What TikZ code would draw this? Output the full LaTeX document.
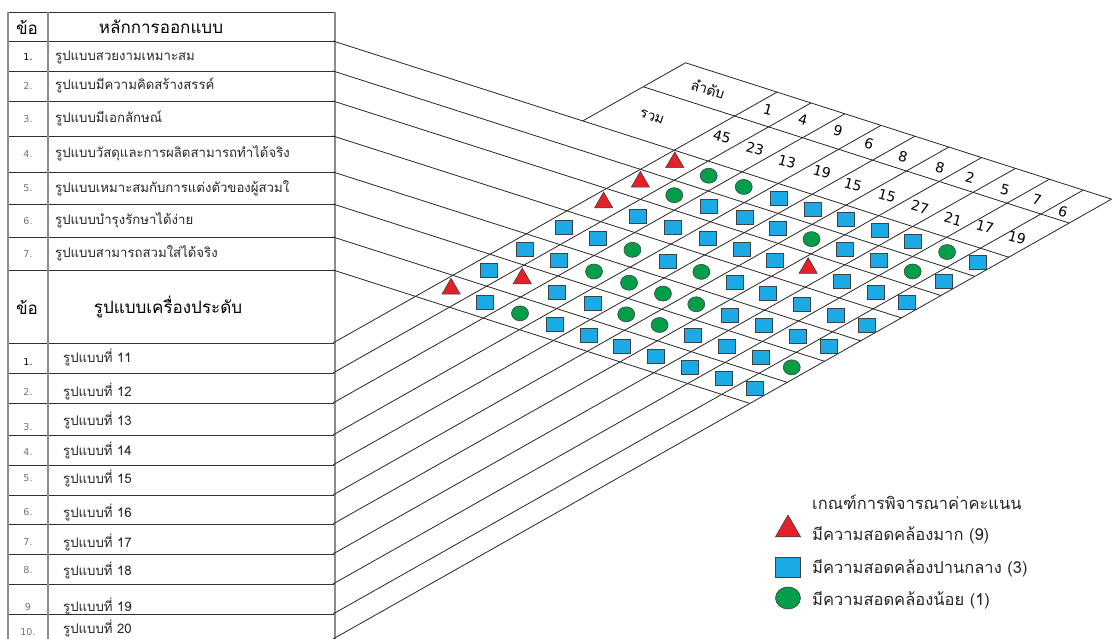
\documentclass[tikz,border=0pt]{standalone}
\usepackage{fontspec}
\setmainfont{DejaVu Sans}
\newfontfamily\thai[Script=Thai]{Loma}
\usetikzlibrary{shapes.geometric}
\definecolor{tri}{RGB}{230,32,40}
\definecolor{sqr}{RGB}{28,170,230}
\definecolor{cir}{RGB}{0,158,72}
\newcommand\ACpt[3]{\pgfmathsetmacro\dd{(#2-(#1))/0.885}\coordinate (#3) at ({333+\dd},{#1+0.32*\dd});}
\begin{document}
\begin{tikzpicture}[x=1pt,y=-1pt,
  gline/.style={draw=black!85,line width=0.8pt},
  tabh/.style={draw=black!80,line width=0.8pt},
  tabv/.style={draw=black!45,line width=1.4pt},
  symT/.style={regular polygon,regular polygon sides=3,fill=tri,draw=black!75,line width=0.6pt,minimum size=21pt,inner sep=0pt,yshift=2.5pt},
  symS/.style={rectangle,fill=sqr,draw=black!75,line width=0.6pt,minimum width=17pt,minimum height=14pt,inner sep=0pt},
  symC/.style={ellipse,fill=cir,draw=black!75,line width=0.6pt,minimum width=17pt,minimum height=15pt,inner sep=0pt},
  ttxt/.style={font=\thai\fontsize{13.2}{15}\selectfont,anchor=west,inner sep=0pt,text=black!85},
  thd/.style={font=\thai\fontsize{17}{19}\selectfont,inner sep=0pt},
  tnum/.style={font=\fontsize{9.5}{11}\selectfont,text=black!55,inner sep=0pt},
  tnumA/.style={tnum,text=black},
  num/.style={font=\fontsize{14}{16}\selectfont,rotate=-15,inner sep=0pt},
  hlab/.style={font=\thai\fontsize{14}{16}\selectfont,rotate=-18,inner sep=0pt},
  leg/.style={font=\thai\fontsize{16.5}{18}\selectfont,anchor=west,inner sep=0pt,text=black!85},
]
\useasboundingbox (0,0) rectangle (1113,639);
% ---------- table ----------
\foreach \y in {12,41,71,101,136,172,204,237,270,343,373,403,435,465,495,524,554,584,614}
  \draw[tabh] (8,\y) -- (335,\y);
\draw[tabv] (8,12) -- (8,645);
\draw[tabv] (48,12) -- (48,645);
\draw[tabv] (335,12) -- (335,645);
% header texts
\node[thd] (h1a) at (27,27) {ข้อ};
\node[thd] (h1b) at (161,27) {หลักการออกแบบ};
\node[thd] (h2a) at (27,307) {ข้อ};
\node[thd] (h2b) at (168,307) {รูปแบบเครื่องประดับ};
% principles
\node[tnumA] (pn1) at (28,57) {1.};
\node[tnum] (pn2) at (28,86) {2.};
\node[tnum] (pn3) at (28,119) {3.};
\node[tnum] (pn4) at (28,154) {4.};
\node[tnum] (pn5) at (28,188) {5.};
\node[tnum] (pn6) at (28,221) {6.};
\node[tnum] (pn7) at (28,254) {7.};
\node[ttxt] (pt1) at (55,57) {รูปแบบสวยงามเหมาะสม};
\node[ttxt] (pt2) at (55,85) {รูปแบบมีความคิดสร้างสรรค์};
\node[ttxt] (pt3) at (55,118) {รูปแบบมีเอกลักษณ์};
\node[ttxt] (pt4) at (55,153) {รูปแบบวัสดุและการผลิตสามารถทำได้จริง};
\node[ttxt] (pt5) at (55,188) {รูปแบบเหมาะสมกับการแต่งตัวของผู้สวมใ};
\node[ttxt] (pt6) at (55,220) {รูปแบบบำรุงรักษาได้ง่าย};
\node[ttxt] (pt7) at (55,253) {รูปแบบสามารถสวมใส่ได้จริง};
% designs
\foreach \n/\ty/\ny [count=\k] in {1./357/362,2./391/392,3./420/427,4./450/452,5./478/478,6./512/512,7./542/542,8./570/570,9/606/607,10./628/632}{
  \ifnum\k=1
    \node[tnumA] (dn\k) at (28,\ny) {\n};
  \else
    \node[tnum] (dn\k) at (28,\ny) {\n};
  \fi
  \pgfmathtruncatemacro\dnum{10+\k}
  \node[ttxt] (dt\k) at (63,\ty) {รูปแบบที่ \dnum};
}
% ---------- grid lines ----------
\foreach \a in {41,71,101,136,172,204,237,270} {
  \pgfmathsetmacro\dd{(639-\a)/0.885}
  \draw[gline] (333,\a) -- ({333+\dd},{\a+0.32*\dd});
}
\foreach \c in {343,373,403,435,465,495,524,554,584,614,639} {
  \pgfmathsetmacro\dd{(\c+50)/0.885}
  \draw[gline] (333,\c) -- ({333+\dd},{-50+0.32*\dd});
}
\ACpt{-50}{262}{hTL}
\ACpt{41}{262}{hBL}
\ACpt{-50}{639}{hTR}
\ACpt{-12.5}{262}{hML}
\ACpt{-12.5}{639}{hMR}
\draw[gline] (hBL) -- (hTL) -- (hTR);
\draw[gline] (hML) -- (hMR);
\node[hlab] (lsum) at (652,117) {รวม};
\node[hlab] (lrank) at (708,89) {ลำดับ};
% totals and ranks
\foreach \v/\x/\y [count=\k] in {45/722/137,23/755/149,13/787/162,19/822/172,15/853/185,15/887/196,27/920/207,21/953/219,17/985/227,19/1017/238}
  \node[num] (tot\k) at (\x,\y) {\v};
\foreach \v/\x/\y [count=\k] in {1/768/110,4/803/120,9/838/131,6/869/144,8/903/157,8/940/168,2/970/178,5/1005/190,7/1037/200,6/1063/212}
  \node[num] (rk\k) at (\x,\y) {\v};
% ---------- relationship symbols ----------
\def\cmids{{358,388,419,450,480,509.5,539,569,599,626.5}}
\foreach \am/\row [count=\i] in {
  55.5/{T,C,C,S,S,S,S,S,C,S},
  86/{T,C,S,S,S,C,S,S,C,S},
  118.5/{T,S,S,S,S,S,T,S,S,S},
  154/{S,S,C,S,C,S,S,S,S,S},
  188/{S,S,C,C,C,C,S,S,S,S},
  220.5/{S,T,S,S,C,C,S,S,S,C},
  253.5/{T,S,C,S,S,S,S,S,S,S}} {
  \foreach \s [count=\j] in \row {
    \pgfmathsetmacro\cm{\cmids[\j-1]}
    \pgfmathsetmacro\dd{(\cm-\am)/0.885}
    \node[style=sym\s] (m\i-\j) at ({333+\dd},{\am+0.32*\dd}) {};
  }
}
% ---------- legend ----------
\node[leg] (lgt) at (812,502) {เกณฑ์การพิจารณาค่าคะแนน};
\node[symT,minimum size=29pt,yshift=1pt] (lg1) at (788,533) {};
\node[leg] (lg1t) at (812,535) {มีความสอดคล้องมาก (9)};
\node[symS,minimum width=25pt,minimum height=20pt] (lg2) at (788,567) {};
\node[leg] (lg2t) at (812,568) {มีความสอดคล้องปานกลาง (3)};
\node[symC,minimum width=25pt,minimum height=22pt] (lg3) at (788,598) {};
\node[leg] (lg3t) at (812,600) {มีความสอดคล้องน้อย (1)};
\end{tikzpicture}
\end{document}
